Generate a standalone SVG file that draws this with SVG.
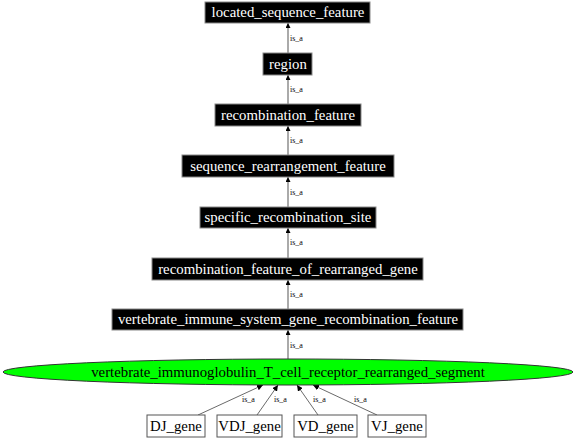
<svg xmlns="http://www.w3.org/2000/svg" width="576" height="439" viewBox="0 0 576 439">
<defs>
<style>
.bn rect{fill:#000;stroke:#888;stroke-width:1}
.bn text{fill:#fff;font-family:"Liberation Serif",serif;font-size:14.8px;text-anchor:middle}
.wn rect{fill:#fff;stroke:#555;stroke-width:1}
.wn text{fill:#000;font-family:"Liberation Serif",serif;font-size:14.8px;text-anchor:middle}
.e{stroke:#aaa;stroke-width:2;fill:none}
.e2{stroke:#444;stroke-width:0.8;fill:none}
.lbl{font-family:"Liberation Serif",serif;font-size:8px;fill:#000}
</style>
<marker id="ah" viewBox="0 0 10 10" refX="10" refY="5" markerWidth="5" markerHeight="5" orient="auto" markerUnits="userSpaceOnUse">
<path d="M0,0 L10,5 L0,10 z" fill="#000"/>
</marker>
<marker id="ah2" viewBox="0 0 10 10" refX="10" refY="5" markerWidth="6" markerHeight="6" orient="auto" markerUnits="userSpaceOnUse">
<path d="M0,0 L10,5 L0,10 z" fill="#000"/>
</marker>
</defs>
<rect width="576" height="439" fill="#fff"/>
<g id="connectors">
<line class="e" x1="288" y1="53" x2="288" y2="23" marker-end="url(#ah)"/>
<text class="lbl" x="290" y="41">is_a</text>
<line class="e" x1="288" y1="104" x2="288" y2="75" marker-end="url(#ah)"/>
<text class="lbl" x="290" y="92">is_a</text>
<line class="e" x1="288" y1="155" x2="288" y2="126" marker-end="url(#ah)"/>
<text class="lbl" x="290" y="143">is_a</text>
<line class="e" x1="288" y1="207" x2="288" y2="177" marker-end="url(#ah)"/>
<text class="lbl" x="290" y="195">is_a</text>
<line class="e" x1="288" y1="258" x2="288" y2="228" marker-end="url(#ah)"/>
<text class="lbl" x="290" y="245">is_a</text>
<line class="e" x1="288" y1="309" x2="288" y2="280" marker-end="url(#ah)"/>
<text class="lbl" x="290" y="297">is_a</text>
<line class="e" x1="288" y1="359" x2="288" y2="330" marker-end="url(#ah)"/>
<text class="lbl" x="290" y="348">is_a</text>
<line class="e2" x1="198" y1="415" x2="263" y2="385" marker-end="url(#ah2)"/>
<text class="lbl" x="242" y="402">is_a</text>
<line class="e2" x1="257" y1="415" x2="278" y2="385" marker-end="url(#ah2)"/>
<text class="lbl" x="274" y="402">is_a</text>
<line class="e2" x1="318" y1="415" x2="297" y2="385" marker-end="url(#ah2)"/>
<text class="lbl" x="313" y="402">is_a</text>
<line class="e2" x1="377" y1="415" x2="313" y2="385" marker-end="url(#ah2)"/>
<text class="lbl" x="354" y="402">is_a</text>
</g>
<g id="located_sequence_feature" class="bn"><rect x="205" y="2" width="165" height="21"/><text x="288" y="17">located_sequence_feature</text></g>
<g id="region" class="bn"><rect x="263" y="53" width="49" height="22"/><text x="288" y="68.5">region</text></g>
<g id="recombination_feature" class="bn"><rect x="215" y="104" width="146" height="22"/><text x="288" y="119.5">recombination_feature</text></g>
<g id="sequence_rearrangement_feature" class="bn"><rect x="182" y="155" width="212" height="22"/><text x="288" y="170.5">sequence_rearrangement_feature</text></g>
<g id="specific_recombination_site" class="bn"><rect x="200" y="207" width="176" height="21"/><text x="288" y="222">specific_recombination_site</text></g>
<g id="recombination_feature_of_rearranged_gene" class="bn"><rect x="152" y="258" width="271" height="22"/><text x="288" y="273.5">recombination_feature_of_rearranged_gene</text></g>
<g id="vertebrate_immune_system_gene_recombination_feature" class="bn"><rect x="112" y="309" width="351" height="21"/><text x="288" y="324">vertebrate_immune_system_gene_recombination_feature</text></g>
<g id="vertebrate_immunoglobulin_T_cell_receptor_rearranged_segment"><ellipse cx="288" cy="372" rx="285" ry="13" fill="#00ff00" stroke="#333" stroke-width="1"/><text x="288" y="377" font-family="Liberation Serif, serif" font-size="14.8px" text-anchor="middle" fill="#000">vertebrate_immunoglobulin_T_cell_receptor_rearranged_segment</text></g>
<g id="DJ_gene" class="wn"><rect x="147" y="415" width="58" height="22"/><text x="176" y="430.5">DJ_gene</text></g>
<g id="VDJ_gene" class="wn"><rect x="217" y="415" width="65" height="22"/><text x="249.5" y="430.5">VDJ_gene</text></g>
<g id="VD_gene" class="wn"><rect x="294" y="415" width="63" height="22"/><text x="325.5" y="430.5">VD_gene</text></g>
<g id="VJ_gene" class="wn"><rect x="368" y="415" width="58" height="22"/><text x="397" y="430.5">VJ_gene</text></g>
</svg>
